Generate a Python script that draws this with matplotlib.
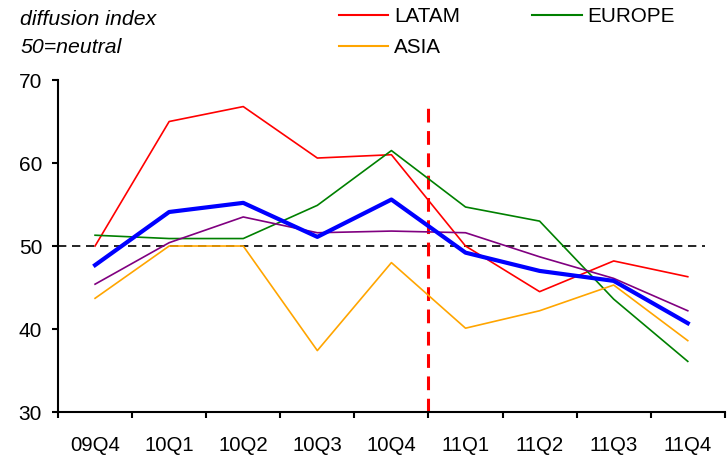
import matplotlib
matplotlib.use("Agg")
import matplotlib.pyplot as plt
from matplotlib.lines import Line2D

plt.rcParams['font.family'] = ['Liberation Sans', 'DejaVu Sans']

quarters = ['09Q4', '10Q1', '10Q2', '10Q3', '10Q4', '11Q1', '11Q2', '11Q3', '11Q4']
latam = [50.0, 65.0, 66.8, 60.6, 61.0, 50.0, 44.5, 48.2, 46.3]
europe = [51.3, 50.9, 50.9, 54.9, 61.5, 54.7, 53.0, 43.6, 36.1]
asia = [43.7, 50.0, 50.0, 37.4, 48.0, 40.1, 42.2, 45.3, 38.6]
total = [47.7, 54.1, 55.2, 51.1, 55.6, 49.2, 47.0, 45.8, 40.7]
other = [45.4, 50.4, 53.5, 51.6, 51.8, 51.6, 48.7, 46.1, 42.2]

fig = plt.figure(figsize=(7.27, 4.58), dpi=100)
ax = fig.add_axes([0.0798, 0.1004, 0.9172, 0.7249])

x = list(range(len(quarters)))

ax.plot([-0.5, 8.23], [50, 50], color='black', lw=1.2, dashes=(5, 3.4))
ax.plot([4.5, 4.5], [30, 67.3], color='#ff0000', lw=2.2, dashes=(4.5, 2.8))

ax.plot(x, latam, color='#ff0000', lw=1.2)
ax.plot(x, europe, color='#008000', lw=1.2)
ax.plot(x, asia, color='#ffa500', lw=1.2)
ax.plot(x, other, color='#800080', lw=1.2)
ax.plot(x, total, color='#0000ff', lw=3)

ax.set_xlim(-0.5, 8.5)
ax.set_ylim(30, 70)
ax.set_yticks([30, 40, 50, 60, 70])
ax.set_xticks([i + 0.5 for i in range(-1, 9)])
ax.set_xticklabels([])
ax.set_xticks(x, minor=True)
ax.set_xticklabels(quarters, minor=True)
ax.tick_params(axis='x', which='minor', length=0, pad=17.5, labelsize=14.7)
ax.tick_params(axis='x', which='major', length=4.3, width=1.5, direction='out')
ax.tick_params(axis='y', length=4.5, width=1.5, direction='out', labelsize=15, pad=7)

for s in ['top', 'right']:
    ax.spines[s].set_visible(False)
for s in ['left', 'bottom']:
    ax.spines[s].set_linewidth(1.5)

fig.text(0.028, 0.957, 'diffusion index', style='italic', fontsize=15.3, va='center')
fig.text(0.028, 0.897, '50=neutral', style='italic', fontsize=15.3, va='center')

handles = [Line2D([], [], color='#ff0000', lw=1.5),
           Line2D([], [], color='#ffa500', lw=1.5),
           Line2D([], [], color='#008000', lw=1.5)]
fig.legend(handles, ['LATAM', 'ASIA', 'EUROPE'], ncol=2, frameon=False,
           loc='upper left', bbox_to_anchor=(0.4407, 1.0247), fontsize=14.9,
           handlelength=2.37, handletextpad=0.29, columnspacing=3.5,
           labelspacing=0.565)

fig.savefig('out.png', dpi=100)
